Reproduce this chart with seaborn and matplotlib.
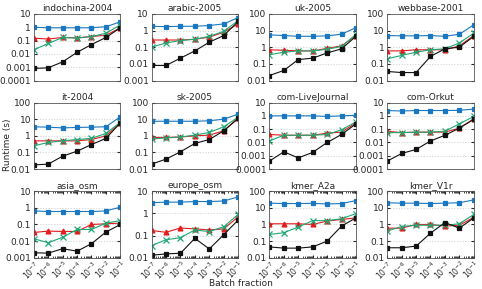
import numpy as np
import pandas as pd
import matplotlib
matplotlib.use("Agg")
import matplotlib.pyplot as plt
import matplotlib.ticker as mticker
import seaborn as sns

batch = [1e-7, 1e-6, 1e-5, 1e-4, 1e-3, 1e-2, 1e-1]

graphs = ["indochina-2004", "arabic-2005", "uk-2005", "webbase-2001",
          "it-2004", "sk-2005", "com-LiveJournal", "com-Orkut",
          "asia_osm", "europe_osm", "kmer_A2a", "kmer_V1r"]

# runtime (s) per graph, one list per method
blue = [
    [1, 0.9, 0.9, 0.9, 0.9, 1.1, 2.5],
    [1.8, 1.7, 1.8, 1.8, 2, 2.5, 6],
    [5.5, 5, 4.5, 4.5, 4.8, 6, 15],
    [5, 4.8, 4.8, 5, 4.5, 6, 22],
    [3.5, 3.3, 3, 3.2, 3.3, 3.5, 14],
    [7.5, 7.5, 7.5, 7.5, 8, 10, 20],
    [1, 1, 1, 1, 0.9, 1, 1.1],
    [2.5, 2.3, 2.5, 2.5, 2.5, 2.6, 3.2],
    [0.65, 0.6, 0.6, 0.6, 0.6, 0.65, 1.1],
    [3, 3.2, 3.2, 3.4, 3.4, 3.6, 5.5],
    [19, 18, 18, 18.5, 17, 18, 27],
    [20, 19, 19, 18, 19, 20, 30],
]
red = [
    [0.15, 0.13, 0.17, 0.16, 0.2, 0.25, 0.9],
    [0.27, 0.27, 0.27, 0.3, 0.4, 0.8, 2.5],
    [0.7, 0.65, 0.6, 0.6, 0.85, 1.2, 5],
    [0.6, 0.6, 0.7, 0.7, 0.7, 1.2, 5],
    [0.5, 0.5, 0.5, 0.5, 0.6, 1.0, 6],
    [0.8, 0.8, 0.85, 1.0, 1.1, 2, 12],
    [0.04, 0.035, 0.035, 0.035, 0.05, 0.06, 0.3],
    [0.07, 0.055, 0.06, 0.06, 0.06, 0.12, 0.6],
    [0.033, 0.04, 0.038, 0.038, 0.1, 0.11, 0.12],
    [0.17, 0.14, 0.22, 0.2, 0.18, 0.2, 0.7],
    [1.1, 1.1, 1.1, 1.0, 1.6, 2, 2.5],
    [0.6, 0.6, 1.0, 1.0, 0.8, 0.9, 2.7],
]
green = [
    [0.02, 0.06, 0.17, 0.15, 0.2, 0.35, 1.5],
    [0.1, 0.18, 0.25, 0.3, 0.45, 0.9, 4],
    [0.35, 0.5, 0.6, 0.6, 0.75, 1.1, 6],
    [0.2, 0.32, 0.5, 0.7, 0.8, 1.8, 7],
    [0.25, 0.4, 0.5, 0.6, 0.7, 1.4, 6.5],
    [0.65, 0.75, 0.85, 1.1, 1.6, 3.5, 13],
    [0.013, 0.035, 0.035, 0.035, 0.04, 0.09, 0.35],
    [0.055, 0.055, 0.06, 0.06, 0.07, 0.25, 0.9],
    [0.014, 0.008, 0.017, 0.05, 0.05, 0.12, 0.17],
    [0.035, 0.065, 0.08, 0.18, 0.15, 0.25, 0.9],
    [0.25, 0.32, 0.7, 1.7, 1.7, 2.2, 4.5],
    [0.4, 0.75, 0.9, 0.9, 0.9, 1.1, 4],
]
black = [
    [0.0008, 0.0009, 0.0025, 0.013, 0.05, 0.17, 0.9],
    [0.008, 0.008, 0.022, 0.06, 0.2, 0.5, 3.5],
    [0.02, 0.04, 0.18, 0.22, 0.45, 0.8, 4.5],
    [0.035, 0.03, 0.03, 0.28, 0.8, 1.0, 4.5],
    [0.018, 0.02, 0.06, 0.12, 0.3, 0.7, 6],
    [0.02, 0.04, 0.11, 0.35, 0.6, 2, 11],
    [0.0004, 0.002, 0.0007, 0.0018, 0.01, 0.04, 0.25],
    [0.0004, 0.0015, 0.003, 0.013, 0.035, 0.12, 0.55],
    [0.002, 0.0019, 0.0035, 0.0025, 0.007, 0.035, 0.1],
    [0.013, 0.015, 0.016, 0.075, 0.025, 0.11, 0.5],
    [0.045, 0.038, 0.038, 0.045, 0.1, 0.8, 2.5],
    [0.04, 0.04, 0.05, 0.3, 1.3, 0.6, 2.5],
]

# y-axis ranges (exponents) per panel
ylims = [(-4, 1), (-3, 1), (-2, 2), (-2, 2),
         (-2, 2), (-2, 2), (-4, 1), (-4, 1),
         (-3, 1), (-2, 1), (-2, 2), (-2, 2)]

series = [
    (blue, "#1a78c2", "s", 3.5),
    (red, "#e41a1c", "^", 3.5),
    (green, "#1fa774", "x", 4),
    (black, "#111111", "s", 2.8),
]

sns.set_style("ticks")
plt.rcParams["font.family"] = ["DejaVu Sans"]

fig, axes = plt.subplots(3, 4, figsize=(4.82, 2.89), dpi=100)
fig.subplots_adjust(left=0.07, right=0.983, top=0.952, bottom=0.108,
                    wspace=0.36, hspace=0.33)


def fmt(v, pos):
    if v >= 1:
        return "%d" % round(v)
    return ("%.10f" % v).rstrip("0")


for i, ax in enumerate(axes.flat):
    lo, hi = ylims[i]
    for data, col, mk, ms in series:
        df = pd.DataFrame({"x": batch, "y": data[i]})
        sns.lineplot(data=df, x="x", y="y", ax=ax, color=col, marker=mk,
                     markersize=ms, markeredgecolor=col, markeredgewidth=0.9,
                     linewidth=0.8)
    ax.set_xscale("log")
    ax.set_yscale("log")
    ax.set_xlim(1e-7, 1e-1)
    ax.set_ylim(10.0 ** lo, 10.0 ** hi)
    ax.yaxis.set_major_locator(mticker.LogLocator(base=10, numticks=10))
    ax.yaxis.set_major_formatter(mticker.FuncFormatter(fmt))
    ax.yaxis.set_minor_locator(mticker.NullLocator())
    for e in range(lo + 1, hi):
        ax.axhline(10.0 ** e, color="#cccccc", lw=0.5, ls=(0, (2, 2)), zorder=0)
    ax.set_title(graphs[i], fontsize=6.5, pad=2)
    ax.set_xlabel("")
    ax.set_ylabel("")
    ax.tick_params(axis="y", labelsize=6.5, length=2, direction="in",
                   right=True, pad=2)
    for s in ax.spines.values():
        s.set_linewidth(0.6)
        s.set_color("#555555")
    if i < 8:
        ax.set_xticks([])
        ax.xaxis.set_minor_locator(mticker.NullLocator())
    else:
        ax.xaxis.set_major_locator(mticker.FixedLocator(batch))
        ax.xaxis.set_major_formatter(mticker.LogFormatterMathtext())
        ax.xaxis.set_minor_locator(mticker.LogLocator(base=10, subs=np.arange(2, 10), numticks=20))
        ax.tick_params(axis="x", which="both", labelsize=5.5, length=2,
                       direction="in", top=True, pad=1)
        ax.tick_params(axis="x", which="minor", length=1.5)
        for lab in ax.get_xticklabels():
            lab.set_rotation(45)
            lab.set_ha("right")
            lab.set_va("top")
            lab.set_rotation_mode("anchor")

fig.text(0.006, 0.5, "Runtime (s)", rotation=90, va="center", ha="left",
         fontsize=6.5)
fig.text(0.5, 0.002, "Batch fraction", ha="center", va="bottom", fontsize=6.5)

fig.savefig("out.png", dpi=100)
